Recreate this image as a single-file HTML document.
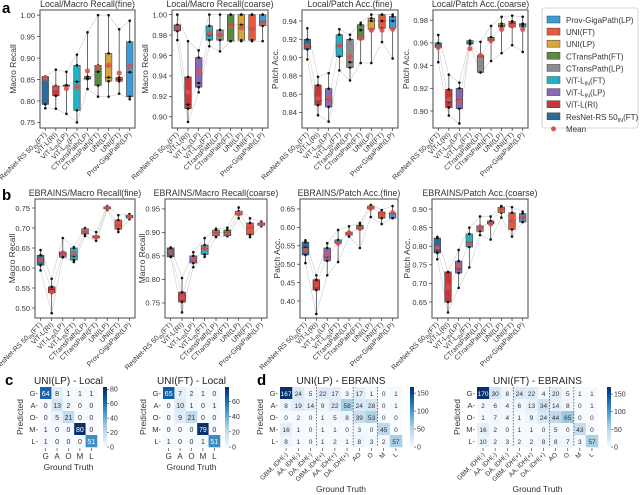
<!DOCTYPE html>
<html><head><meta charset="utf-8"><style>
body{margin:0;background:#fff}
svg{display:block;font-family:"Liberation Sans",Arial,sans-serif}
</style></head><body>
<svg id="fig" width="640" height="495" viewBox="0 0 640 495" xmlns="http://www.w3.org/2000/svg">
<text x="2" y="13" font-size="15" font-weight="bold">a</text>
<text x="2" y="200" font-size="15" font-weight="bold">b</text>
<text x="5" y="385" font-size="15" font-weight="bold">c</text>
<text x="257" y="385" font-size="15" font-weight="bold">d</text>
</svg>
<script>
const models=["ResNet-RS 50IN(FT)","ViT-L(RI)","ViT-LIN(LP)","ViT-LIN(FT)","CTransPath(LP)","CTransPath(FT)","UNI(LP)","UNI(FT)","Prov-GigaPath(LP)"];
const colors=["#2d6a9e","#c9363a","#8a68b8","#25b1c4","#8c8c8c","#5c8a43","#d8a63c","#e8573f","#3b9bd6"];
// a1 Local/Macro Recall(fine)
const a1Lo=[.783,.782,.77,.75,.828,.81,.81,.817,.804];
const a1Q1=[.792,.812,.835,.778,.851,.836,.846,.846,.81];
const a1Med=[.855,.833,.836,.845,.853,.868,.855,.85,.867];
const a1Q3=[.857,.835,.837,.883,.857,.883,.911,.855,.938];
const a1Hi=[.857,.873,.868,.908,.96,1.0,1.0,.967,.987];
const a1Mean=[.853,.83,.829,.833,.87,.879,.883,.865,.881];
// a2 Local/Macro Recall(coarse)
const a2Lo=[.975,.895,.924,.969,.964,.974,.974,.974,.974];
const a2Q1=[.984,.908,.929,.975,.975,.974,.975,.975,.989];
const a2Med=[.987,.912,.933,.98,.98,.99,.99,.986,.993];
const a2Q3=[.99,.939,.958,.989,.985,1.0,1.0,1.0,1.0];
const a2Hi=[1.0,.974,.965,1.0,1.0,1.0,1.0,1.0,1.0];
const a2Mean=[.987,.924,.944,.982,.98,.989,.987,.986,.992];
// a3 Local/Patch Acc.(fine)
const a3Lo=[.898,.837,.83,.886,.875,.894,.894,.917,.899];
const a3Q1=[.909,.848,.846,.901,.889,.92,.931,.932,.932];
const a3Med=[.912,.853,.854,.913,.895,.93,.94,.94,.94];
const a3Q3=[.92,.87,.866,.925,.92,.936,.943,.947,.945];
const a3Hi=[.932,.879,.883,.931,.925,.938,.947,.947,.947];
const a3Mean=[.913,.855,.855,.913,.901,.921,.93,.93,.931];
// a4 Local/Patch Acc.(coarse)
const a4Lo=[.943,.896,.889,.959,.934,.944,.951,.958,.952];
const a4Q1=[.956,.903,.902,.959,.934,.962,.974,.974,.974];
const a4Med=[.957,.908,.91,.96,.948,.963,.975,.977,.976];
const a4Q3=[.96,.919,.92,.962,.949,.965,.977,.979,.977];
const a4Hi=[.967,.932,.925,.962,.961,.975,.983,.984,.983];
const a4Mean=[.956,.91,.909,.955,.949,.962,.972,.975,.972];
// b1 EBRAINS/Macro Recall(fine)
const b1Lo=[.594,.487,.627,.615,.68,.668,.745,.69,.722];
const b1Q1=[.607,.538,.627,.62,.685,.675,.748,.697,.725];
const b1Med=[.622,.545,.635,.63,.69,.678,.75,.707,.728];
const b1Q3=[.632,.553,.64,.65,.698,.68,.753,.72,.732];
const b1Hi=[.645,.573,.675,.652,.70,.69,.755,.732,.735];
const b1Mean=[.621,.54,.638,.636,.692,.677,.75,.708,.728];
// b2 EBRAINS/Macro Recall(coarse)
const b2Lo=[.848,.73,.826,.848,.89,.892,.93,.89,.913];
const b2Q1=[.848,.752,.835,.853,.893,.893,.937,.895,.915];
const b2Med=[.858,.765,.84,.866,.9,.9,.94,.91,.918];
const b2Q3=[.867,.773,.85,.873,.905,.905,.945,.92,.92];
const b2Hi=[.868,.803,.858,.888,.908,.91,.953,.93,.923];
const b2Mean=[.858,.763,.842,.866,.898,.898,.94,.91,.918];
// b3 EBRAINS/Patch Acc.(fine)
const b3Lo=[.503,.365,.47,.506,.575,.544,.628,.609,.625];
const b3Q1=[.525,.43,.509,.557,.579,.595,.65,.625,.625];
const b3Med=[.545,.445,.52,.56,.583,.6,.655,.638,.638];
const b3Q3=[.56,.458,.544,.566,.587,.606,.658,.642,.639];
const b3Hi=[.565,.47,.557,.593,.603,.612,.661,.647,.658];
const b3Mean=[.538,.445,.525,.557,.585,.597,.652,.637,.64];
// b4 EBRAINS/Patch Acc.(coarse)
const b4Lo=[.765,.622,.688,.743,.83,.818,.877,.826,.865];
const b4Q1=[.782,.65,.728,.798,.84,.86,.89,.845,.865];
const b4Med=[.79,.69,.74,.81,.85,.864,.9,.868,.878];
const b4Q3=[.822,.731,.76,.833,.855,.868,.905,.89,.888];
const b4Hi=[.825,.73,.79,.85,.88,.88,.908,.905,.893];
const b4Mean=[.795,.69,.745,.807,.85,.86,.897,.868,.877];
// confusion matrices
const cRows=["G","A","O","M","L"];
const cCols=["G","A","O","M","L"];
const cLP=[[64,8,1,1,1],[0,13,2,0,0],[0,5,21,0,0],[1,0,0,80,0],[1,0,0,0,51]];
const cFT=[[65,7,2,1,0],[0,10,1,0,1],[0,9,21,0,0],[0,0,0,79,0],[1,0,0,1,51]];
const dCols=["GBM, IDH(-)","AA, IDH(-)","DA, IDH(-)","GBM, IDH(+)","AA, IDH(+)","DA, IDH(+)","AO","O","M","L"];
const dLP=[[167,24,5,22,17,3,17,1,0,1],[8,19,14,9,22,58,24,28,0,1],[0,2,0,1,5,8,39,53,0,0],[16,1,0,1,1,0,3,0,45,0],[8,1,0,1,2,1,8,3,2,57]];
const dFT=[[170,30,8,24,22,4,20,5,1,1],[2,6,4,6,13,34,14,8,0,1],[1,7,4,1,9,24,44,65,0,0],[16,2,0,1,1,0,5,0,43,0],[10,2,3,2,2,8,8,7,3,57]];

const NS="http://www.w3.org/2000/svg";
const svg=document.getElementById("fig");
function mk(tag,attrs,parent){const e=document.createElementNS(NS,tag);for(const k in attrs)e.setAttribute(k,attrs[k]);(parent||svg).appendChild(e);return e;}
function modelLabel(t,name){
  const m=name.match(/^(.*?)(IN)(\(.*\))$/);
  if(m){const a=document.createElementNS(NS,"tspan");a.textContent=m[1];t.appendChild(a);
    const b=document.createElementNS(NS,"tspan");b.textContent="IN";b.setAttribute("font-size","5.5");b.setAttribute("dy","2");t.appendChild(b);
    const c=document.createElementNS(NS,"tspan");c.textContent=m[3];c.setAttribute("dy","-2");t.appendChild(c);}
  else t.textContent=name;
}
function boxPlot(p){
  const g=mk("g",{});
  
  
  const sy=v=>p.y1-(v-p.vmin)/(p.vmax-p.vmin)*(p.y1-p.y0);
  const step=(p.x1-p.x0)/9, sx=i=>p.x0+step*(i+0.5), bw=step*0.62;
  const fr=mk("rect",{x:p.x0,y:p.y0,width:p.x1-p.x0,height:p.y1-p.y0,fill:"none",stroke:"#666","stroke-width":1.2},g);
  
  
  const tt=mk("text",{x:(p.x0+p.x1)/2,y:p.y0-3,"text-anchor":"middle","font-size":8.8,fill:"#333"},g);tt.textContent=p.title;
  
  
  const yl=mk("text",{x:0,y:0,"text-anchor":"middle","font-size":8.5,fill:"#333",transform:`translate(${p.x0-p.ylo},${(p.y0+p.y1)/2}) rotate(-90)`},g);yl.textContent=p.ylabel;
  
  
  p.ticks.forEach(v=>{
    mk("line",{x1:p.x0-3,x2:p.x0,y1:sy(v),y2:sy(v),stroke:"#333","stroke-width":.7},g);
    const t=mk("text",{x:p.x0-5,y:sy(v)+2.8,"text-anchor":"end","font-size":7.5,fill:"#333"},g);t.textContent=v.toFixed(2);
    
    
  });
  mk("polyline",{points:p.lo.map((v,i)=>sx(i)+","+sy(v)).join(" "),fill:"none",stroke:"#ccc","stroke-width":.6},g);
  mk("polyline",{points:p.hi.map((v,i)=>sx(i)+","+sy(v)).join(" "),fill:"none",stroke:"#ccc","stroke-width":.6},g);
  mk("polyline",{points:p.med.map((v,i)=>sx(i)+","+sy(v)).join(" "),fill:"none",stroke:"#d4d4d4","stroke-width":.6},g);
  models.forEach((m,i)=>{
    const x=sx(i);
    mk("line",{x1:x,x2:x,y1:sy(p.lo[i]),y2:sy(p.hi[i]),stroke:"#444","stroke-width":.8},g);
    const r=mk("rect",{x:x-bw/2,y:sy(p.q3[i]),width:bw,height:Math.max(1.2,sy(p.q1[i])-sy(p.q3[i])),fill:colors[i],stroke:"#444","stroke-width":.6},g);
    
    
    mk("line",{x1:x-bw/2,x2:x+bw/2,y1:sy(p.med[i]),y2:sy(p.med[i]),stroke:"#333","stroke-width":.7},g);
    [p.lo[i],p.q1[i],p.med[i],p.q3[i],p.hi[i]].forEach(v=>mk("circle",{cx:x,cy:sy(v),r:1.3,fill:"#111"},g));
    const c=mk("circle",{cx:x,cy:sy(p.mean[i]),r:2.6,fill:"#d9534f","fill-opacity":.9},g);
    
    
    mk("line",{x1:x,x2:x,y1:p.y1,y2:p.y1+3,stroke:"#333","stroke-width":.7},g);
    const t=mk("text",{x:0,y:0,"text-anchor":"end","font-size":7,fill:"#333",transform:`translate(${x+2},${p.y1+7}) rotate(-45)`},g);
    modelLabel(t,m);
    
    
  });
}
const tk=(a,b,s)=>{const r=[];for(let v=a;v<=b+1e-9;v+=s)r.push(+v.toFixed(3));return r;};
boxPlot({name:"local-macro-recall-fine",x0:40,x1:135,y0:10,y1:128,vmin:.737,vmax:1.012,ticks:tk(.75,1,.05),ylo:24,title:"Local/Macro Recall(fine)",ylabel:"Macro Recall",lo:a1Lo,q1:a1Q1,med:a1Med,q3:a1Q3,hi:a1Hi,mean:a1Mean});
boxPlot({name:"local-macro-recall-coarse",x0:172,x1:268,y0:10,y1:128,vmin:.889,vmax:1.0045,ticks:tk(.90,1,.02),ylo:24,title:"Local/Macro Recall(coarse)",ylabel:"Macro Recall",lo:a2Lo,q1:a2Q1,med:a2Med,q3:a2Q3,hi:a2Hi,mean:a2Mean});
boxPlot({name:"local-patch-acc-fine",x0:302,x1:398,y0:10,y1:128,vmin:.823,vmax:.952,ticks:tk(.84,.94,.02),ylo:24,title:"Local/Patch Acc.(fine)",ylabel:"Patch Acc.",lo:a3Lo,q1:a3Q1,med:a3Med,q3:a3Q3,hi:a3Hi,mean:a3Mean});
boxPlot({name:"local-patch-acc-coarse",x0:433,x1:528,y0:10,y1:128,vmin:.885,vmax:.989,ticks:tk(.90,.98,.02),ylo:24,title:"Local/Patch Acc.(coarse)",ylabel:"Patch Acc.",lo:a4Lo,q1:a4Q1,med:a4Med,q3:a4Q3,hi:a4Hi,mean:a4Mean});
boxPlot({name:"ebrains-macro-recall-fine",x0:35,x1:135,y0:199,y1:318,vmin:.475,vmax:.7725,ticks:tk(.5,.75,.05),ylo:20,title:"EBRAINS/Macro Recall(fine)",ylabel:"Macro Recall",lo:b1Lo,q1:b1Q1,med:b1Med,q3:b1Q3,hi:b1Hi,mean:b1Mean});
boxPlot({name:"ebrains-macro-recall-coarse",x0:165,x1:267,y0:199,y1:318,vmin:.718,vmax:.971,ticks:tk(.75,.95,.05),ylo:20,title:"EBRAINS/Macro Recall(coarse)",ylabel:"Macro Recall",lo:b2Lo,q1:b2Q1,med:b2Med,q3:b2Q3,hi:b2Hi,mean:b2Mean});
boxPlot({name:"ebrains-patch-acc-fine",x0:300,x1:398,y0:199,y1:318,vmin:.354,vmax:.677,ticks:tk(.4,.65,.05),ylo:20,title:"EBRAINS/Patch Acc.(fine)",ylabel:"Patch Acc.",lo:b3Lo,q1:b3Q1,med:b3Med,q3:b3Q3,hi:b3Hi,mean:b3Mean});
boxPlot({name:"ebrains-patch-acc-coarse",x0:432,x1:528,y0:199,y1:318,vmin:.607,vmax:.927,ticks:tk(.65,.9,.05),ylo:22,title:"EBRAINS/Patch Acc.(coarse)",ylabel:"Patch Acc.",lo:b4Lo,q1:b4Q1,med:b4Med,q3:b4Q3,hi:b4Hi,mean:b4Mean});

// legend
const lg=mk("g",{});


mk("rect",{x:542,y:8,width:96,height:120,fill:"#fff",stroke:"#ccc","stroke-width":.8,rx:2},lg);
const legOrder=[8,7,6,5,4,3,2,1,0];
legOrder.forEach((mi,k)=>{
  const y=20+k*12.1;
  const sw=mk("rect",{x:547,y:y-4,width:13,height:7,fill:colors[mi],stroke:"#444","stroke-width":.5},lg);
  
  
  const t=mk("text",{x:566,y:y+3,"font-size":8,fill:"#333"},lg);modelLabel(t,models[mi]);
  
  
});
mk("circle",{cx:553.5,cy:20+9*12.1,r:2.5,fill:"#d9534f"},lg);
const mt=mk("text",{x:566,y:20+9*12.1+3,"font-size":8,fill:"#333"},lg);mt.textContent="Mean";



// heatmaps
const blues=["#f7fbff","#deebf7","#c6dbef","#9ecae1","#6baed6","#4292c6","#2171b5","#08519c","#08306b"];
function hexToRgb(h){return [1,3,5].map(i=>parseInt(h.substr(i,2),16));}
function bl(t){t=Math.max(0,Math.min(1,t));const f=t*8,i=Math.min(7,Math.floor(f)),u=f-i;const a=hexToRgb(blues[i]),b=hexToRgb(blues[i+1]);return "rgb("+a.map((v,k)=>Math.round(v+(b[k]-v)*u)).join(",")+")";}
function heat(h){
  const g=mk("g",{});
  
  
  const nr=h.data.length,nc=h.data[0].length,cw=h.w/nc,ch=h.h/nr;
  const tt=mk("text",{x:h.x0+h.w/2,y:h.y0-3,"text-anchor":"middle","font-size":10,fill:"#222"},g);tt.textContent=h.title;
  
  
  h.data.forEach((row,r)=>row.forEach((v,c)=>{
    const cell=mk("rect",{x:h.x0+c*cw,y:h.y0+r*ch,width:cw+.3,height:ch+.3,fill:bl(v/h.vmax)},g);
    
    
    const t=mk("text",{x:h.x0+c*cw+cw/2,y:h.y0+r*ch+ch/2+2.8,"text-anchor":"middle","font-size":h.fs,fill:v/h.vmax>0.55?"#fff":"#333"},g);t.textContent=v;
  }));
  (h.seps||[]).forEach(c=>mk("line",{x1:h.x0+c*cw,x2:h.x0+c*cw,y1:h.y0,y2:h.y0+h.h,stroke:"#555","stroke-width":.8,"stroke-dasharray":"1.5,1.5"},g));
  cRows.forEach((l,r)=>{const t=mk("text",{x:h.x0-2,y:h.y0+r*ch+ch/2+2.8,"text-anchor":"end","font-size":7.5,fill:"#333"},g);t.textContent=l+"-";});
  const pl=mk("text",{x:0,y:0,"text-anchor":"middle","font-size":8.5,fill:"#333",transform:`translate(${h.x0-17},${h.y0+h.h/2}) rotate(-90)`},g);pl.textContent="Predicted";
  
  
  h.cols.forEach((l,c)=>{
    const x=h.x0+c*cw+cw/2;
    mk("line",{x1:x,x2:x,y1:h.y0+h.h+1,y2:h.y0+h.h+4,stroke:"#333","stroke-width":.6},g);
    if(h.rot){const t=mk("text",{x:0,y:0,"text-anchor":"end","font-size":6.5,fill:"#333",transform:`translate(${x+2},${h.y0+h.h+8}) rotate(-45)`},g);t.textContent=l;}
    else{const t=mk("text",{x:x,y:h.y0+h.h+12,"text-anchor":"middle","font-size":8,fill:"#333"},g);t.textContent=l;}
  });
  const gt=mk("text",{x:h.x0+h.w/2,y:h.rot?492:h.y0+h.h+23,"text-anchor":"middle","font-size":8.5,fill:"#333"},g);gt.textContent="Ground Truth";
  
  
  const cbx=h.x0+h.w+h.cbg, n=30;
  for(let i=0;i<n;i++){mk("rect",{x:cbx,y:h.y0+h.h-(i+1)*h.h/n,width:4,height:h.h/n+.3,fill:bl((i+.5)/n*h.cbmax/h.vmax)},g);}
  h.cbt.forEach(v=>{const y=h.y0+h.h-v/h.cbmax*h.h;
    mk("line",{x1:cbx+4,x2:cbx+6,y1:y,y2:y,stroke:"#333","stroke-width":.6},g);
    const t=mk("text",{x:cbx+7,y:y+2.5,"font-size":7,fill:"#333"},g);t.textContent=v;
    
    });
}
heat({name:"confusion-uni-lp-local",x0:40,y0:387,w:57,h:60,data:cLP,cols:cCols,vmax:80,cbmax:83,cbt:[0,20,40,60,80],cbg:6,fs:7,title:"UNI(LP) - Local"});
heat({name:"confusion-uni-ft-local",x0:163,y0:387,w:57,h:60,data:cFT,cols:cCols,vmax:79,cbmax:79,cbt:[0,20,40,60],cbg:5,fs:7,title:"UNI(FT) - Local"});
heat({name:"confusion-uni-lp-ebrains",x0:280,y0:387,w:122,h:60,data:dLP,cols:dCols,vmax:167,cbmax:167,cbt:[0,50,100,150],cbg:8,fs:6.5,rot:true,seps:[3,6,8],title:"UNI(LP) - EBRAINS"});
heat({name:"confusion-uni-ft-ebrains",x0:477,y0:387,w:121,h:60,data:dFT,cols:dCols,vmax:170,cbmax:170,cbt:[0,50,100,150],cbg:9,fs:6.5,rot:true,seps:[3,6,8],title:"UNI(FT) - EBRAINS"});
</script>
</body></html>
